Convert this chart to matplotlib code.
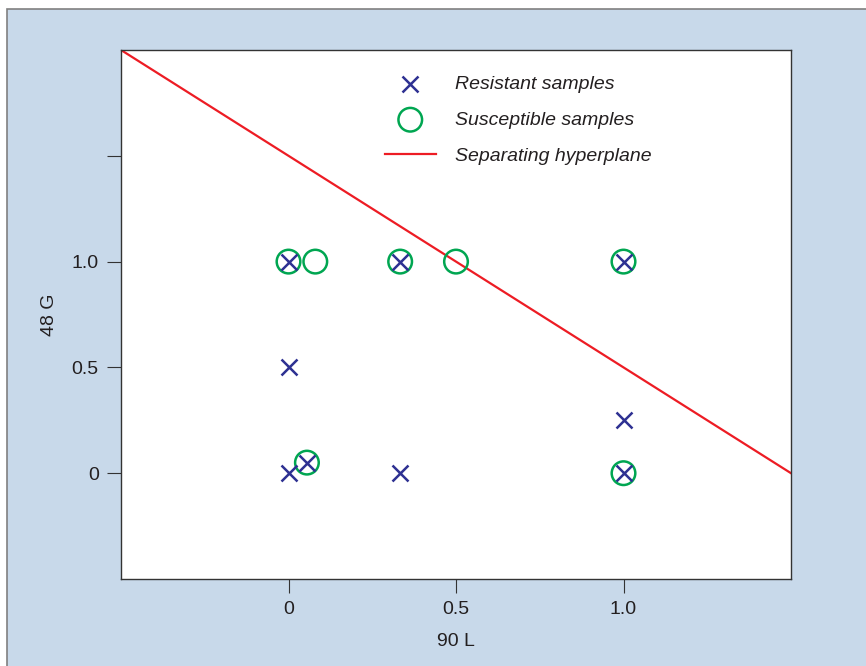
import matplotlib.pyplot as plt
from matplotlib.patches import Rectangle

# sample coordinates (90 L, 48 G)
res_x = [0, 1/3, 1, 0, 0, 0.055, 1/3, 1, 1]
res_y = [1, 1, 1, 0.5, 0, 0.05, 0, 0.25, 0]
sus_x = [0, 0.08, 1/3, 0.5, 1, 0.055, 1]
sus_y = [1, 1, 1, 1, 1, 0.05, 0]

# separating hyperplane end points
hyp_x = [-0.5, 1.5]
hyp_y = [2.0, 0.0]

xticks = [0, 0.5, 1.0]
xtick_labels = ["0", "0.5", "1.0"]
yticks = [0, 0.5, 1.0, 1.5]
ytick_labels = ["0", "0.5", "1.0", ""]

plt.rcParams['font.family'] = ['Liberation Sans Narrow', 'Liberation Sans', 'DejaVu Sans']
text_col = '#231f20'
fs = 14

fig = plt.figure(figsize=(8.66, 6.66), dpi=100, facecolor='white')
# light blue panel with grey border (cropped at right/bottom)
fig.patches.append(Rectangle((7/866, -0.1), 1.1, 1 - 9/666 + 0.1, transform=fig.transFigure,
                             facecolor='#c8d9ea', edgecolor='#808080', linewidth=1.2, zorder=-5))

ax = fig.add_axes([121/866, 1 - 579/666, 670/866, 529/666])
ax.set_zorder(1)
ax.set_facecolor('white')

line, = ax.plot(hyp_x, hyp_y, color='#ed1c24', linewidth=1.6, label='Separating hyperplane', zorder=2)
sus = ax.scatter(sus_x, sus_y, s=17**2, facecolors='none', edgecolors='#00a651', linewidths=1.8,
                 label='Susceptible samples', zorder=3)
res = ax.scatter(res_x, res_y, s=11.5**2, marker='x', color='#2e3192', linewidths=1.8,
                 label='Resistant samples', zorder=4)

ax.set_xlim(-0.5, 1.5)
ax.set_ylim(-0.5, 2.0)
ax.set_xticks(xticks)
ax.set_xticklabels(xtick_labels)
ax.set_yticks(yticks)
ax.set_yticklabels(ytick_labels)
ax.tick_params(direction='out', length=10, width=0.8, colors='#333333', labelcolor=text_col,
               labelsize=fs, pad=6)
for sp in ax.spines.values():
    sp.set_color('#333333')
    sp.set_linewidth(1.0)

ax.set_xlabel('90 L', fontsize=fs, color=text_col, labelpad=11)
ax.set_ylabel('48 G', fontsize=fs, color=text_col, labelpad=10)

leg = ax.legend(handles=[res, sus, line], loc='upper left', bbox_to_anchor=(0.394, 0.9525),
                borderaxespad=0, borderpad=0, frameon=False,
                prop={'style': 'italic', 'size': fs}, handlelength=2.6,
                handletextpad=1.0, labelspacing=0.95)
for t in leg.get_texts():
    t.set_color(text_col)

fig.savefig('out.png', dpi=100, facecolor=fig.get_facecolor())
